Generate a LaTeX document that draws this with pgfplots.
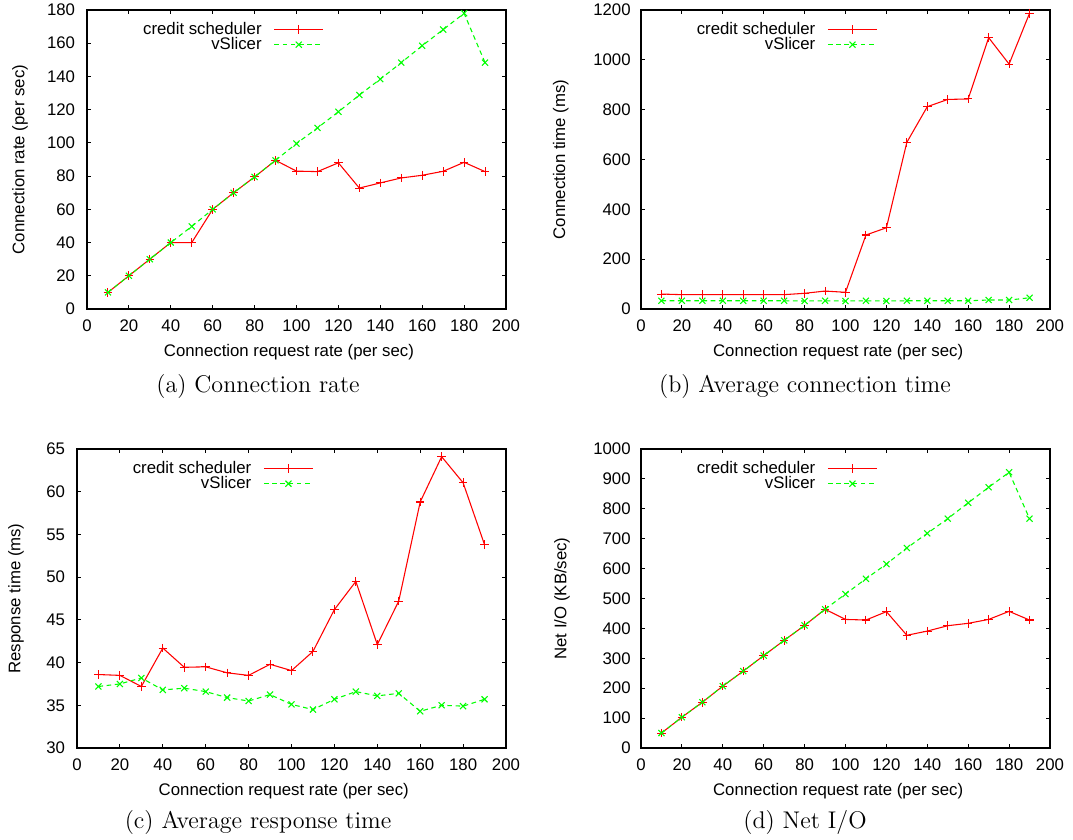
\documentclass[border=0pt]{standalone}
\usepackage{fontspec}
\usepackage{pgfplots}
\usepackage{pgfplotstable}
\pgfplotsset{compat=1.18}
\newfontfamily\hel{Liberation Sans}
\definecolor{gpred}{rgb}{1,0,0}
\definecolor{gpgreen}{rgb}{0,1,0}

% x = connection request rate (per sec)
\pgfplotstableread{
x   credit  vslicer
10  10      10
20  20      20
30  30      30
40  40      40
50  40      49.7
60  60      60
70  70      70
80  79.5    79.5
90  89.5    89.5
100 83      99.6
110 82.7    109
120 88      118.7
130 72.8    128.8
140 75.9    138.4
150 78.9    148.3
160 80.5    158.5
170 82.9    168.2
180 88.3    178
190 82.7    148.3
}\connrate

\pgfplotstableread{
x   credit  vslicer
10  60      33
20  57.5    33
30  57.5    33
40  57.5    33
50  57.5    33
60  57.5    33
70  57.5    33
80  63      32
90  72      33
100 67      32
110 297     33
120 326     32
130 669     33
140 812     33
150 841     33
160 843     33
170 1089    36
180 983     36
190 1187    45
}\conntime

\pgfplotstableread{
x   credit  vslicer
10  38.6    37.2
20  38.5    37.5
30  37.2    38.2
40  41.7    36.8
50  39.45   37.0
60  39.5    36.6
70  38.8    35.9
80  38.5    35.5
90  39.8    36.25
100 39.06   35.1
110 41.3    34.5
120 46.2    35.7
130 49.5    36.6
140 42.1    36.1
150 47.2    36.4
160 58.8    34.3
170 64.1    35.0
180 61.05   34.9
190 53.8    35.7
}\resptime

\pgfplotstableread{
x   credit  vslicer
10  50      50
20  103     103
30  153     153
40  207     207
50  257     257
60  309     309
70  360     360
80  410     410
90  464     464
100 430     515
110 428     566
120 456     615
130 377     669
140 391     718
150 409     767
160 417     820
170 430     872
180 457     922
190 428     767
}\netio

\pgfplotsset{
  gp/.style={
    scale only axis,
    height=167.44pt,
    xmin=0, xmax=200,
    xtick={0,20,...,200},
    axis line style={line width=0.8pt},
    major tick length=2.5pt,
    every tick/.style={black, line width=0.6pt},
    /pgf/number format/assume math mode=true,
    /pgf/number format/1000 sep={},
    ticklabel style={font=\hel\fontsize{9.4}{11}\selectfont},
    xticklabel style={anchor=center, yshift=-9.5pt},
    label style={font=\hel\fontsize{9.4}{11}\selectfont},
    xlabel={Connection request rate (per sec)},
    xlabel style={at={(axis description cs:0.482,-0.145)}, anchor=center},
    legend plot pos=right,
    legend cell align=right,
    legend style={draw=none, fill=none, anchor=north east,
      font=\hel\fontsize{9.4}{11}\selectfont,
      inner sep=0pt, row sep=-0.5pt, column sep=6.5pt,
      nodes={inner sep=0.3pt}},
    legend image code/.code={%
      \draw[mark repeat=2, mark phase=2, #1]
        plot coordinates {(0pt,0pt) (13.7pt,0pt) (27.4pt,0pt)};},
  },
  credit/.style={gpred, line width=0.6pt, mark=+, mark size=2.4pt,
    mark options={solid, line width=0.6pt}},
  vslicer/.style={gpgreen, line width=0.6pt, dash pattern=on 2.6pt off 2pt,
    mark=x, mark size=2.4pt, mark options={solid, line width=0.6pt}},
}

\begin{document}
\begin{tikzpicture}
\useasboundingbox (0pt,0pt) rectangle (600.88pt,-470.4pt);

% (a)
\begin{axis}[gp, at={(48.72pt,-173.04pt)}, anchor=south west,
  width=234.64pt, ymin=0, ymax=180, ytick={0,20,...,180},
  yticklabel style={anchor=east, inner sep=0pt, xshift=-6.5pt},
  ylabel={Connection rate (per sec)},
  ylabel style={at={(axis description cs:-0.16,0.5)}, anchor=center},
  legend style={at={(axis description cs:0.566,0.962)}}]
\addplot[credit] table[x=x, y=credit] {\connrate};
\addlegendentry{credit scheduler}
\addplot[vslicer] table[x=x, y=vslicer] {\connrate};
\addlegendentry{vSlicer}
\end{axis}

% (b)
\begin{axis}[gp, at={(358.96pt,-173.04pt)}, anchor=south west,
  width=229.04pt, ymin=0, ymax=1200, ytick={0,200,...,1200},
  yticklabel style={anchor=east, inner sep=0pt, xshift=-5.6pt},
  ylabel={Connection time (ms)},
  ylabel style={at={(axis description cs:-0.196,0.5)}, anchor=center},
  legend style={at={(axis description cs:0.579,0.962)}}]
\addplot[credit] table[x=x, y=credit] {\conntime};
\addlegendentry{credit scheduler}
\addplot[vslicer] table[x=x, y=vslicer] {\conntime};
\addlegendentry{vSlicer}
\end{axis}

% (c)
\begin{axis}[gp, at={(43.12pt,-418.88pt)}, anchor=south west,
  width=240.24pt, ymin=30, ymax=65, ytick={30,35,...,65},
  yticklabel style={anchor=east, inner sep=0pt, xshift=-6.5pt},
  ylabel={Response time (ms)},
  ylabel style={at={(axis description cs:-0.142,0.5)}, anchor=center},
  legend style={at={(axis description cs:0.552,0.962)}}]
\addplot[credit] table[x=x, y=credit] {\resptime};
\addlegendentry{credit scheduler}
\addplot[vslicer] table[x=x, y=vslicer] {\resptime};
\addlegendentry{vSlicer}
\end{axis}

% (d)
\begin{axis}[gp, at={(358.96pt,-418.88pt)}, anchor=south west,
  width=229.04pt, ymin=0, ymax=1000, ytick={0,100,...,1000},
  yticklabel style={anchor=east, inner sep=0pt, xshift=-5.6pt},
  ylabel={Net I/O (KB/sec)},
  ylabel style={at={(axis description cs:-0.193,0.5)}, anchor=center},
  legend style={at={(axis description cs:0.579,0.962)}}]
\addplot[credit] table[x=x, y=credit] {\netio};
\addlegendentry{credit scheduler}
\addplot[vslicer] table[x=x, y=vslicer] {\netio};
\addlegendentry{vSlicer}
\end{axis}

% sub-figure captions
\begin{scope}[every node/.style={font=\fontsize{13.5}{16}\selectfont}]
\node at (144.5pt,-216.7pt) {(a) Connection rate};
\node at (450.8pt,-216.7pt) {(b) Average connection time};
\node at (144.5pt,-460.5pt) {(c) Average response time};
\node at (450.8pt,-460.5pt) {(d) Net I/O};
\end{scope}
\end{tikzpicture}
\end{document}
